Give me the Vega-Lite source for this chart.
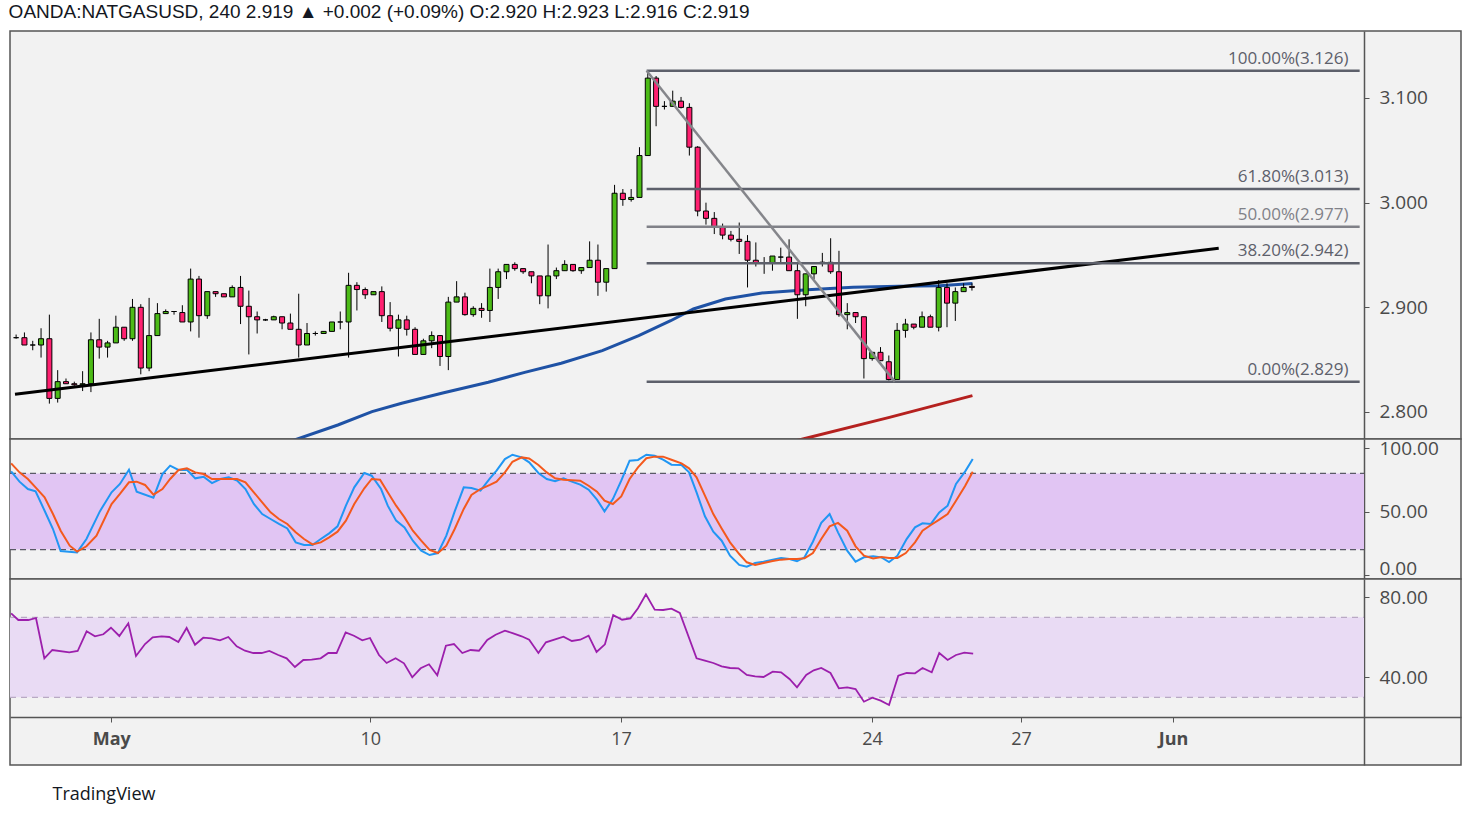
{
  "$schema": "https://vega.github.io/schema/vega-lite/v6.json",
  "background": "white",
  "padding": {"left": 8, "top": 3, "right": 10, "bottom": 10},
  "bounds": "flush",
  "spacing": 0,
  "title": {
    "text": "OANDA:NATGASUSD, 240  2.919 ▲ +0.002 (+0.09%)  O:2.920  H:2.923  L:2.916  C:2.919",
    "anchor": "start",
    "font": "'Liberation Sans Narrow', 'Liberation Sans', sans-serif",
    "fontSize": 19,
    "fontWeight": "normal",
    "color": "#131722",
    "offset": 8
  },
  "config": {
    "view": {"fill": "#f2f2f2", "stroke": "#555555", "strokeWidth": 1.5},
    "axis": {
      "grid": false,
      "title": null,
      "labelFont": "Open Sans",
      "labelFontSize": 19,
      "labelColor": "#4a4a4a",
      "domainColor": "#555555",
      "domainWidth": 1.5,
      "tickColor": "#555555",
      "tickSize": 5,
      "zindex": 1
    }
  },
  "datasets": {
    "ohlc": [
      {"i":0,"o":2.871,"h":2.874,"l":2.870,"c":2.871},
      {"i":1,"o":2.871,"h":2.876,"l":2.864,"c":2.864},
      {"i":2,"o":2.864,"h":2.868,"l":2.859,"c":2.864},
      {"i":3,"o":2.864,"h":2.880,"l":2.852,"c":2.870},
      {"i":4,"o":2.870,"h":2.893,"l":2.808,"c":2.813},
      {"i":5,"o":2.813,"h":2.840,"l":2.809,"c":2.829},
      {"i":6,"o":2.829,"h":2.832,"l":2.827,"c":2.827},
      {"i":7,"o":2.827,"h":2.829,"l":2.825,"c":2.826},
      {"i":8,"o":2.826,"h":2.839,"l":2.820,"c":2.827},
      {"i":9,"o":2.827,"h":2.876,"l":2.819,"c":2.869},
      {"i":10,"o":2.869,"h":2.889,"l":2.851,"c":2.862},
      {"i":11,"o":2.862,"h":2.868,"l":2.852,"c":2.866},
      {"i":12,"o":2.866,"h":2.892,"l":2.866,"c":2.881},
      {"i":13,"o":2.881,"h":2.881,"l":2.868,"c":2.870},
      {"i":14,"o":2.870,"h":2.908,"l":2.868,"c":2.900},
      {"i":15,"o":2.900,"h":2.903,"l":2.836,"c":2.842},
      {"i":16,"o":2.842,"h":2.909,"l":2.839,"c":2.873},
      {"i":17,"o":2.873,"h":2.904,"l":2.873,"c":2.894},
      {"i":18,"o":2.894,"h":2.898,"l":2.894,"c":2.896},
      {"i":19,"o":2.896,"h":2.896,"l":2.893,"c":2.896},
      {"i":20,"o":2.895,"h":2.902,"l":2.886,"c":2.886},
      {"i":21,"o":2.886,"h":2.937,"l":2.877,"c":2.927},
      {"i":22,"o":2.927,"h":2.930,"l":2.871,"c":2.892},
      {"i":23,"o":2.892,"h":2.915,"l":2.889,"c":2.915},
      {"i":24,"o":2.915,"h":2.915,"l":2.910,"c":2.913},
      {"i":25,"o":2.913,"h":2.913,"l":2.910,"c":2.910},
      {"i":26,"o":2.910,"h":2.921,"l":2.910,"c":2.919},
      {"i":27,"o":2.919,"h":2.930,"l":2.884,"c":2.901},
      {"i":28,"o":2.901,"h":2.916,"l":2.855,"c":2.891},
      {"i":29,"o":2.891,"h":2.896,"l":2.875,"c":2.888},
      {"i":30,"o":2.888,"h":2.889,"l":2.887,"c":2.888},
      {"i":31,"o":2.888,"h":2.892,"l":2.888,"c":2.891},
      {"i":32,"o":2.891,"h":2.891,"l":2.879,"c":2.885},
      {"i":33,"o":2.885,"h":2.894,"l":2.879,"c":2.879},
      {"i":34,"o":2.879,"h":2.913,"l":2.852,"c":2.864},
      {"i":35,"o":2.864,"h":2.885,"l":2.864,"c":2.875},
      {"i":36,"o":2.875,"h":2.877,"l":2.873,"c":2.875},
      {"i":37,"o":2.875,"h":2.877,"l":2.875,"c":2.877},
      {"i":38,"o":2.877,"h":2.886,"l":2.877,"c":2.886},
      {"i":39,"o":2.886,"h":2.896,"l":2.879,"c":2.886},
      {"i":40,"o":2.886,"h":2.933,"l":2.852,"c":2.921},
      {"i":41,"o":2.921,"h":2.924,"l":2.897,"c":2.917},
      {"i":42,"o":2.917,"h":2.919,"l":2.908,"c":2.912},
      {"i":43,"o":2.912,"h":2.915,"l":2.912,"c":2.915},
      {"i":44,"o":2.915,"h":2.920,"l":2.886,"c":2.892},
      {"i":45,"o":2.892,"h":2.905,"l":2.877,"c":2.880},
      {"i":46,"o":2.880,"h":2.893,"l":2.853,"c":2.888},
      {"i":47,"o":2.888,"h":2.892,"l":2.873,"c":2.879},
      {"i":48,"o":2.879,"h":2.881,"l":2.855,"c":2.855},
      {"i":49,"o":2.855,"h":2.870,"l":2.855,"c":2.868},
      {"i":50,"o":2.868,"h":2.877,"l":2.861,"c":2.873},
      {"i":51,"o":2.873,"h":2.873,"l":2.844,"c":2.853},
      {"i":52,"o":2.853,"h":2.910,"l":2.840,"c":2.905},
      {"i":53,"o":2.905,"h":2.925,"l":2.905,"c":2.910},
      {"i":54,"o":2.910,"h":2.914,"l":2.892,"c":2.893},
      {"i":55,"o":2.893,"h":2.901,"l":2.891,"c":2.899},
      {"i":56,"o":2.899,"h":2.904,"l":2.890,"c":2.897},
      {"i":57,"o":2.897,"h":2.937,"l":2.886,"c":2.919},
      {"i":58,"o":2.919,"h":2.937,"l":2.908,"c":2.934},
      {"i":59,"o":2.934,"h":2.941,"l":2.927,"c":2.941},
      {"i":60,"o":2.941,"h":2.943,"l":2.935,"c":2.937},
      {"i":61,"o":2.937,"h":2.937,"l":2.932,"c":2.934},
      {"i":62,"o":2.934,"h":2.934,"l":2.923,"c":2.930},
      {"i":63,"o":2.930,"h":2.930,"l":2.903,"c":2.911},
      {"i":64,"o":2.911,"h":2.960,"l":2.899,"c":2.930},
      {"i":65,"o":2.930,"h":2.938,"l":2.927,"c":2.935},
      {"i":66,"o":2.935,"h":2.945,"l":2.935,"c":2.941},
      {"i":67,"o":2.941,"h":2.941,"l":2.934,"c":2.935},
      {"i":68,"o":2.935,"h":2.938,"l":2.932,"c":2.938},
      {"i":69,"o":2.938,"h":2.963,"l":2.938,"c":2.945},
      {"i":70,"o":2.945,"h":2.960,"l":2.911,"c":2.924},
      {"i":71,"o":2.924,"h":2.937,"l":2.915,"c":2.937},
      {"i":72,"o":2.937,"h":3.017,"l":2.937,"c":3.009},
      {"i":73,"o":3.009,"h":3.013,"l":2.997,"c":3.003},
      {"i":74,"o":3.003,"h":3.013,"l":3.001,"c":3.005},
      {"i":75,"o":3.005,"h":3.053,"l":3.005,"c":3.045},
      {"i":76,"o":3.045,"h":3.125,"l":3.045,"c":3.119},
      {"i":77,"o":3.119,"h":3.121,"l":3.073,"c":3.092},
      {"i":78,"o":3.092,"h":3.097,"l":3.089,"c":3.092},
      {"i":79,"o":3.092,"h":3.107,"l":3.092,"c":3.097},
      {"i":80,"o":3.097,"h":3.101,"l":3.090,"c":3.091},
      {"i":81,"o":3.091,"h":3.095,"l":3.045,"c":3.053},
      {"i":82,"o":3.053,"h":3.054,"l":2.987,"c":2.992},
      {"i":83,"o":2.992,"h":3.000,"l":2.979,"c":2.985},
      {"i":84,"o":2.985,"h":2.991,"l":2.970,"c":2.977},
      {"i":85,"o":2.977,"h":2.980,"l":2.965,"c":2.969},
      {"i":86,"o":2.969,"h":2.973,"l":2.963,"c":2.965},
      {"i":87,"o":2.965,"h":2.981,"l":2.951,"c":2.963},
      {"i":88,"o":2.963,"h":2.969,"l":2.919,"c":2.945},
      {"i":89,"o":2.945,"h":2.962,"l":2.939,"c":2.942},
      {"i":90,"o":2.942,"h":2.948,"l":2.932,"c":2.942},
      {"i":91,"o":2.942,"h":2.949,"l":2.935,"c":2.949},
      {"i":92,"o":2.948,"h":2.957,"l":2.943,"c":2.948},
      {"i":93,"o":2.948,"h":2.965,"l":2.935,"c":2.935},
      {"i":94,"o":2.935,"h":2.943,"l":2.889,"c":2.912},
      {"i":95,"o":2.912,"h":2.932,"l":2.901,"c":2.932},
      {"i":96,"o":2.932,"h":2.939,"l":2.927,"c":2.939},
      {"i":97,"o":2.943,"h":2.952,"l":2.939,"c":2.943},
      {"i":98,"o":2.943,"h":2.966,"l":2.932,"c":2.934},
      {"i":99,"o":2.934,"h":2.954,"l":2.891,"c":2.893},
      {"i":100,"o":2.893,"h":2.904,"l":2.879,"c":2.895},
      {"i":101,"o":2.895,"h":2.895,"l":2.885,"c":2.891},
      {"i":102,"o":2.891,"h":2.891,"l":2.832,"c":2.851},
      {"i":103,"o":2.851,"h":2.857,"l":2.849,"c":2.857},
      {"i":104,"o":2.857,"h":2.862,"l":2.849,"c":2.849},
      {"i":105,"o":2.848,"h":2.854,"l":2.830,"c":2.831},
      {"i":106,"o":2.831,"h":2.885,"l":2.831,"c":2.878},
      {"i":107,"o":2.878,"h":2.889,"l":2.871,"c":2.884},
      {"i":108,"o":2.884,"h":2.884,"l":2.879,"c":2.881},
      {"i":109,"o":2.881,"h":2.896,"l":2.881,"c":2.891},
      {"i":110,"o":2.891,"h":2.893,"l":2.881,"c":2.881},
      {"i":111,"o":2.881,"h":2.926,"l":2.877,"c":2.919},
      {"i":112,"o":2.919,"h":2.923,"l":2.881,"c":2.904},
      {"i":113,"o":2.904,"h":2.919,"l":2.887,"c":2.915},
      {"i":114,"o":2.915,"h":2.923,"l":2.915,"c":2.919},
      {"i":115,"o":2.920,"h":2.923,"l":2.916,"c":2.919}
    ],
    "ma_blue": [
      {"i":30,"p":2.7637},{"i":38.71,"p":2.7876},{"i":42.82,"p":2.8003},{"i":46.39,"p":2.8083},
      {"i":51.32,"p":2.8182},{"i":56.81,"p":2.8284},{"i":61.19,"p":2.8379},{"i":65.58,"p":2.8466},
      {"i":70.52,"p":2.8586},{"i":74.91,"p":2.8729},{"i":78.75,"p":2.8872},{"i":81.49,"p":2.8984},
      {"i":85.34,"p":2.9079},{"i":89.72,"p":2.9137},{"i":95.21,"p":2.9168},{"i":100.69,"p":2.9191},
      {"i":106.17,"p":2.9201},{"i":111.12,"p":2.9207},{"i":115.06,"p":2.9228}
    ],
    "ma_red": [
      {"i":91.86,"p":2.7685},{"i":94.66,"p":2.7742},{"i":105.07,"p":2.7949},{"i":115.06,"p":2.8156}
    ],
    "trend": [{"i":-0.135,"p":2.8170},{"i":144.69,"p":2.9564}],
    "swing": [{"i":75.86,"p":3.126},{"i":105.72,"p":2.829}],
    "fib": [
      {"label":"100.00%(3.126)","price":3.126,"start":75.86},
      {"label":"61.80%(3.013)","price":3.013,"start":75.86},
      {"label":"50.00%(2.977)","price":2.977,"start":75.86},
      {"label":"38.20%(2.942)","price":2.942,"start":75.86},
      {"label":"0.00%(2.829)","price":2.829,"start":75.86}
    ],
    "stoch_k": [
      {"i":0,"v":81.6},{"i":1,"v":73.5},{"i":2,"v":67.7},{"i":2.92,"v":65.9},{"i":4,"v":50.6},{"i":5,"v":36.2},
      {"i":5.92,"v":18.9},{"i":7.88,"v":17.8},{"i":9,"v":28.3},{"i":10.6,"v":50.1},{"i":12,"v":65.1},{"i":13,"v":71.7},
      {"i":14.08,"v":82.9},{"i":15,"v":65.6},{"i":17,"v":60.9},{"i":18.08,"v":79.5},{"i":19,"v":86.1},{"i":20,"v":82.7},
      {"i":21,"v":82.9},{"i":22,"v":76.1},{"i":23,"v":77.4},{"i":24,"v":72.4},{"i":25,"v":75.6},{"i":26,"v":76.9},
      {"i":27,"v":74.3},{"i":28,"v":67.7},{"i":29,"v":55.9},{"i":30,"v":48},{"i":31,"v":44.1},{"i":32,"v":40.2},
      {"i":33,"v":36.7},{"i":34,"v":25.7},{"i":35,"v":23.6},{"i":36,"v":23.6},{"i":37,"v":28.3},{"i":38,"v":32.8},
      {"i":39,"v":38.3},{"i":40,"v":54.6},{"i":41,"v":69},{"i":42.2,"v":80.3},{"i":43.08,"v":78.2},{"i":44.2,"v":67.7},
      {"i":45,"v":54.6},{"i":46,"v":42.8},{"i":47,"v":37.5},{"i":48,"v":27},{"i":49,"v":19.2},{"i":50,"v":15.7},
      {"i":51,"v":17.3},{"i":52,"v":31},{"i":53,"v":50.1},{"i":54.08,"v":69},{"i":55,"v":68.5},{"i":56.08,"v":66.4},
      {"i":57.21,"v":76.1},{"i":58,"v":82.2},{"i":59,"v":91.3},{"i":59.9,"v":94.7},{"i":61,"v":92.6},{"i":61.9,"v":88.7},
      {"i":63,"v":80.3},{"i":64,"v":75.6},{"i":65,"v":73.8},{"i":66,"v":76.1},{"i":67,"v":73.5},{"i":68,"v":71.2},
      {"i":69,"v":67.2},{"i":70,"v":59.3},{"i":70.9,"v":50.1},{"i":71.9,"v":59.8},{"i":72.9,"v":74.3},{"i":73.9,"v":90},
      {"i":74.9,"v":90.6},{"i":75.9,"v":94.7},{"i":76.9,"v":93.9},{"i":77.9,"v":90.8},{"i":78.9,"v":86.9},{"i":80.1,"v":86.6},
      {"i":81,"v":80.8},{"i":81.9,"v":65.1},{"i":82.9,"v":46.2},{"i":83.9,"v":34.1},{"i":84.9,"v":27},{"i":85.9,"v":15.2},
      {"i":87,"v":7.9},{"i":87.9,"v":6.5},{"i":88.9,"v":9.4},{"i":89.9,"v":10.5},{"i":91,"v":12.1},{"i":92,"v":13.4},
      {"i":93,"v":12.6},{"i":93.9,"v":10.8},{"i":94.8,"v":13.9},{"i":95.8,"v":26.2},{"i":96.8,"v":41},{"i":97.8,"v":48},
      {"i":98.8,"v":33.6},{"i":99.9,"v":19.2},{"i":100.9,"v":10.5},{"i":101.9,"v":13.9},{"i":103,"v":14.7},{"i":104,"v":13.9},
      {"i":104.9,"v":10.2},{"i":105.9,"v":15.2},{"i":107,"v":28.3},{"i":108,"v":37.5},{"i":108.9,"v":40.7},{"i":109.9,"v":40.2},
      {"i":110.9,"v":49.3},{"i":111.9,"v":54.6},{"i":112.9,"v":71.7},{"i":114,"v":81.6},{"i":114.9,"v":91.3}
    ],
    "stoch_d": [
      {"i":0,"v":87.9},{"i":1,"v":80.8},{"i":2,"v":75.6},{"i":2.92,"v":69},{"i":4,"v":61.2},{"i":5,"v":48},
      {"i":5.92,"v":34.9},{"i":7,"v":23.1},{"i":7.88,"v":18.4},{"i":9,"v":22.6},{"i":10.2,"v":31},{"i":12,"v":55.9},
      {"i":13,"v":63.8},{"i":14.08,"v":73},{"i":15,"v":73.5},{"i":16,"v":70.9},{"i":17,"v":63.3},{"i":18.08,"v":67.7},
      {"i":19,"v":75.6},{"i":20,"v":82.7},{"i":21,"v":84},{"i":22,"v":80.8},{"i":23,"v":79.5},{"i":24,"v":75.6},
      {"i":25,"v":75.6},{"i":26,"v":75.6},{"i":27,"v":75.6},{"i":28,"v":73},{"i":29,"v":65.1},{"i":30,"v":57.2},
      {"i":31,"v":49.3},{"i":32,"v":44.1},{"i":33,"v":40.2},{"i":34,"v":33.6},{"i":35,"v":28.3},{"i":36,"v":24.1},
      {"i":37,"v":25.7},{"i":38,"v":29.7},{"i":39,"v":34.1},{"i":40,"v":42.8},{"i":41,"v":55.9},{"i":42.2,"v":68.3},
      {"i":43.08,"v":75.6},{"i":44.08,"v":75},{"i":45,"v":65.1},{"i":46,"v":54.6},{"i":47,"v":45.4},{"i":48,"v":34.9},
      {"i":49,"v":27},{"i":50,"v":19.7},{"i":51,"v":17.3},{"i":52,"v":23.1},{"i":53,"v":36.2},{"i":54.08,"v":52},
      {"i":55,"v":63},{"i":56.08,"v":67.7},{"i":57.21,"v":70.9},{"i":58,"v":73.5},{"i":59,"v":80.8},{"i":59.9,"v":89.2},
      {"i":61,"v":92.6},{"i":61.9,"v":91.8},{"i":63,"v":86.6},{"i":64,"v":80.8},{"i":65,"v":76.1},{"i":66,"v":75},
      {"i":68,"v":74.3},{"i":69,"v":70.3},{"i":70,"v":65.6},{"i":70.9,"v":58.5},{"i":71.9,"v":55.9},{"i":72.9,"v":61.9},
      {"i":73.9,"v":75.6},{"i":74.9,"v":84.8},{"i":75.9,"v":91.9},{"i":76.9,"v":93.2},{"i":77.9,"v":93.2},{"i":78.9,"v":90.8},
      {"i":80.1,"v":87.9},{"i":81,"v":84},{"i":81.9,"v":76.9},{"i":82.9,"v":62.5},{"i":83.9,"v":48},{"i":84.9,"v":36.7},
      {"i":85.9,"v":25.7},{"i":87,"v":16.5},{"i":87.9,"v":10},{"i":88.9,"v":7.9},{"i":89.9,"v":9.4},{"i":91,"v":11},
      {"i":92,"v":12.1},{"i":93,"v":12.6},{"i":93.9,"v":12.6},{"i":94.8,"v":13.1},{"i":95.8,"v":17.3},{"i":96.8,"v":28.3},
      {"i":97.8,"v":38.3},{"i":98.8,"v":41},{"i":99.9,"v":34.9},{"i":100.9,"v":22.6},{"i":101.9,"v":15.2},{"i":103,"v":13.1},
      {"i":104,"v":14.2},{"i":104.9,"v":13.4},{"i":105.9,"v":13.4},{"i":106.9,"v":17.3},{"i":108,"v":25.7},{"i":108.9,"v":34.9},
      {"i":109.9,"v":39.4},{"i":110.9,"v":43.6},{"i":111.9,"v":48},{"i":112.9,"v":58.5},{"i":114,"v":70.3},{"i":114.9,"v":81.3}
    ],
    "rsi": [
      {"i":0,"v":72},{"i":0.86,"v":68.65},{"i":2.06,"v":68.65},{"i":2.97,"v":69.65},{"i":3.97,"v":49.5},{"i":4.92,"v":53.65},
      {"i":6.95,"v":52.5},{"i":7.95,"v":53.15},{"i":9.02,"v":63},{"i":10.02,"v":60.5},{"i":11.02,"v":61.5},{"i":11.93,"v":64.8},
      {"i":12.93,"v":60.65},{"i":14,"v":67},{"i":14.92,"v":50.65},{"i":16,"v":56.65},{"i":16.91,"v":60},{"i":17.98,"v":60.5},
      {"i":18.9,"v":60.15},{"i":19.98,"v":57.65},{"i":20.97,"v":64.65},{"i":21.97,"v":56.3},{"i":22.96,"v":59.8},{"i":23.96,"v":59.5},
      {"i":24.95,"v":58.5},{"i":25.95,"v":60.15},{"i":26.95,"v":55.5},{"i":27.94,"v":53.3},{"i":28.94,"v":52.15},{"i":29.93,"v":52.15},
      {"i":30.85,"v":53.15},{"i":31.92,"v":51.15},{"i":32.92,"v":49.5},{"i":33.91,"v":45.15},{"i":34.91,"v":48.65},{"i":35.91,"v":48.8},
      {"i":36.98,"v":49.5},{"i":37.9,"v":52.15},{"i":38.89,"v":52.15},{"i":39.97,"v":62.5},{"i":40.96,"v":60.8},{"i":41.96,"v":58.5},
      {"i":42.88,"v":59.65},{"i":43.95,"v":51.15},{"i":44.87,"v":47.15},{"i":45.94,"v":49.5},{"i":46.94,"v":47},{"i":47.93,"v":40},
      {"i":48.93,"v":44.5},{"i":49.93,"v":46.5},{"i":50.92,"v":41},{"i":51.95,"v":55.8},{"i":52.91,"v":56.65},{"i":53.91,"v":52.15},
      {"i":54.9,"v":53.65},{"i":55.9,"v":53.3},{"i":56.89,"v":58.65},{"i":57.89,"v":61.3},{"i":59,"v":63.3},{"i":60,"v":62},
      {"i":61,"v":60.5},{"i":61.9,"v":58.8},{"i":63,"v":52.15},{"i":63.9,"v":57.5},{"i":65,"v":59},{"i":66,"v":60.3},
      {"i":67,"v":58.15},{"i":68,"v":58.8},{"i":69,"v":60.8},{"i":69.95,"v":52.65},{"i":70.95,"v":56.5},{"i":71.94,"v":71.15},
      {"i":73,"v":68.8},{"i":74,"v":69.5},{"i":74.9,"v":74.5},{"i":75.85,"v":81.5},{"i":76.9,"v":73.8},{"i":77.9,"v":73.65},
      {"i":78.9,"v":74.3},{"i":79.9,"v":72.15},{"i":81.9,"v":49.5},{"i":82.9,"v":48.3},{"i":83.9,"v":47.15},{"i":84.9,"v":45.5},
      {"i":85.9,"v":44.65},{"i":86.9,"v":44.5},{"i":87.9,"v":41.15},{"i":88.9,"v":40.5},{"i":89.9,"v":40.15},{"i":91,"v":42.8},
      {"i":92,"v":42.5},{"i":93,"v":39.15},{"i":93.9,"v":35},{"i":95,"v":41.15},{"i":95.9,"v":43.5},{"i":96.8,"v":44.65},
      {"i":97.9,"v":42.15},{"i":98.9,"v":34.5},{"i":99.9,"v":35},{"i":100.9,"v":34.15},{"i":101.9,"v":27.8},{"i":102.9,"v":29.8},
      {"i":103.9,"v":28.3},{"i":104.9,"v":26.15},{"i":106,"v":40.8},{"i":107,"v":42.15},{"i":108,"v":42},{"i":108.9,"v":44.65},
      {"i":110,"v":42.5},{"i":110.9,"v":52.15},{"i":111.9,"v":48.65},{"i":112.9,"v":51.15},{"i":113.9,"v":52.3},{"i":114.95,"v":51.8}
    ]
  },
  "vconcat": [
    {
      "width": 1451,
      "height": 408,
      "layer": [
        {
          "data": {"name": "ma_blue"},
          "mark": {"type": "line", "color": "#1f52a5", "strokeWidth": 3, "clip": true},
          "encoding": {
            "x": {"field": "i", "type": "quantitative", "scale": {"domain": [-0.135, 173.24], "nice": false, "zero": false}, "axis": null},
            "y": {"field": "p", "type": "quantitative", "scale": {"domain": [2.7742, 3.164], "nice": false, "zero": false},
                  "axis": {"orient": "right", "offset": -97, "values": [2.8, 2.9, 3.0, 3.1], "format": ".3f", "labelPadding": 10, "labelFlush": false}}
          }
        },
        {
          "data": {"name": "ma_red"},
          "mark": {"type": "line", "color": "#b5211f", "strokeWidth": 3, "clip": true},
          "encoding": {
            "x": {"field": "i", "type": "quantitative", "scale": {"domain": [-0.135, 173.24], "nice": false, "zero": false}},
            "y": {"field": "p", "type": "quantitative", "scale": {"domain": [2.7742, 3.164], "nice": false, "zero": false}}
          }
        },
        {
          "data": {"name": "ohlc"},
          "mark": {"type": "rule", "color": "#000000", "strokeWidth": 1, "clip": true},
          "encoding": {
            "x": {"field": "i", "type": "quantitative", "scale": {"domain": [-0.135, 173.24], "nice": false, "zero": false}},
            "y": {"field": "l", "type": "quantitative", "scale": {"domain": [2.7742, 3.164], "nice": false, "zero": false}},
            "y2": {"field": "h"}
          }
        },
        {
          "data": {"name": "ohlc"},
          "mark": {"type": "bar", "width": 5, "stroke": "#000000", "strokeWidth": 1, "clip": true},
          "encoding": {
            "x": {"field": "i", "type": "quantitative", "scale": {"domain": [-0.135, 173.24], "nice": false, "zero": false}},
            "y": {"field": "o", "type": "quantitative", "scale": {"domain": [2.7742, 3.164], "nice": false, "zero": false}},
            "y2": {"field": "c"},
            "fill": {"condition": {"test": "datum.c >= datum.o", "value": "#4cbb17"}, "value": "#ff2070"}
          }
        },
        {
          "data": {"name": "trend"},
          "mark": {"type": "line", "color": "#000000", "strokeWidth": 3, "clip": true},
          "encoding": {
            "x": {"field": "i", "type": "quantitative", "scale": {"domain": [-0.135, 173.24], "nice": false, "zero": false}},
            "y": {"field": "p", "type": "quantitative", "scale": {"domain": [2.7742, 3.164], "nice": false, "zero": false}}
          }
        },
        {
          "data": {"name": "fib"},
          "mark": {"type": "rule", "strokeWidth": 2.5},
          "encoding": {
            "x": {"field": "start", "type": "quantitative", "scale": {"domain": [-0.135, 173.24], "nice": false, "zero": false}},
            "x2": {"datum": 161.65},
            "y": {"field": "price", "type": "quantitative", "scale": {"domain": [2.7742, 3.164], "nice": false, "zero": false}},
            "color": {"condition": {"test": "datum.price == 2.977", "value": "#808188"}, "value": "#5d606b"}
          }
        },
        {
          "data": {"name": "swing"},
          "mark": {"type": "line", "color": "#85868b", "strokeWidth": 2.5},
          "encoding": {
            "x": {"field": "i", "type": "quantitative", "scale": {"domain": [-0.135, 173.24], "nice": false, "zero": false}},
            "y": {"field": "p", "type": "quantitative", "scale": {"domain": [2.7742, 3.164], "nice": false, "zero": false}}
          }
        },
        {
          "data": {"name": "fib"},
          "mark": {"type": "text", "align": "right", "baseline": "bottom", "dy": -3, "font": "Open Sans", "fontSize": 17},
          "encoding": {
            "x": {"datum": 160.3, "type": "quantitative", "scale": {"domain": [-0.135, 173.24], "nice": false, "zero": false}},
            "y": {"field": "price", "type": "quantitative", "scale": {"domain": [2.7742, 3.164], "nice": false, "zero": false}},
            "text": {"field": "label"},
            "color": {"condition": {"test": "datum.price == 2.977", "value": "#808188"}, "value": "#5d606b"}
          }
        }
      ]
    },
    {
      "width": 1451,
      "height": 140,
      "layer": [
        {
          "data": {"values": [{"lo": 20, "hi": 80}]},
          "mark": {"type": "rect", "color": "#e1c5f3"},
          "encoding": {
            "x": {"datum": -0.135, "type": "quantitative", "scale": {"domain": [-0.135, 173.24], "nice": false, "zero": false}, "axis": null},
            "x2": {"datum": 161.65},
            "y": {"field": "lo", "type": "quantitative", "scale": {"domain": [-3.15, 107.09], "nice": false, "zero": false},
                  "axis": {"orient": "right", "offset": -97, "values": [0, 50, 100], "format": ".2f", "labelPadding": 10, "labelFlush": false,
                           "labelBaseline": {"condition": {"test": "datum.value == 0", "value": "alphabetic"}, "value": "middle"}}},
            "y2": {"field": "hi"}
          }
        },
        {
          "data": {"values": [{"lv": 20}, {"lv": 80}]},
          "mark": {"type": "rule", "color": "#5a5a66", "strokeWidth": 1.3, "strokeDash": [6, 4]},
          "encoding": {
            "x": {"datum": -0.135, "type": "quantitative", "scale": {"domain": [-0.135, 173.24], "nice": false, "zero": false}},
            "x2": {"datum": 161.65},
            "y": {"field": "lv", "type": "quantitative", "scale": {"domain": [-3.15, 107.09], "nice": false, "zero": false}}
          }
        },
        {
          "data": {"name": "stoch_k"},
          "mark": {"type": "line", "color": "#2196f3", "strokeWidth": 2, "clip": true},
          "encoding": {
            "x": {"field": "i", "type": "quantitative", "scale": {"domain": [-0.135, 173.24], "nice": false, "zero": false}},
            "y": {"field": "v", "type": "quantitative", "scale": {"domain": [-3.15, 107.09], "nice": false, "zero": false}}
          }
        },
        {
          "data": {"name": "stoch_d"},
          "mark": {"type": "line", "color": "#f4591d", "strokeWidth": 2, "clip": true},
          "encoding": {
            "x": {"field": "i", "type": "quantitative", "scale": {"domain": [-0.135, 173.24], "nice": false, "zero": false}},
            "y": {"field": "v", "type": "quantitative", "scale": {"domain": [-3.15, 107.09], "nice": false, "zero": false}}
          }
        }
      ]
    },
    {
      "width": 1451,
      "height": 186,
      "layer": [
        {
          "data": {"values": [{"lo": 30, "hi": 70}]},
          "mark": {"type": "rect", "color": "#e9dbf4"},
          "encoding": {
            "x": {"datum": -0.135, "type": "quantitative", "scale": {"domain": [-0.135, 173.24], "nice": false, "zero": false},
                  "axis": {
                    "orient": "bottom", "offset": -48,
                    "values": [11.97, 42.92, 72.87, 102.86, 120.67, 138.83],
                    "labelExpr": "datum.value < 20 ? 'May' : datum.value < 50 ? '10' : datum.value < 90 ? '17' : datum.value < 110 ? '24' : datum.value < 130 ? '27' : 'Jun'",
                    "labelFontSize": 18,
                    "labelPadding": 8,
                    "labelFontWeight": {"condition": {"test": "datum.value < 20 || datum.value > 130", "value": "bold"}, "value": "normal"},
                    "title": "TradingView",
                    "titleX": 42,
                    "titleY": 68,
                    "titleAlign": "left",
                    "titleBaseline": "top",
                    "titleFont": "Open Sans",
                    "titleFontSize": 18,
                    "titleFontWeight": "normal",
                    "titleColor": "#131722"
                  }},
            "x2": {"datum": 161.65},
            "y": {"field": "lo", "type": "quantitative", "scale": {"domain": [-3.85, 89.15], "nice": false, "zero": false},
                  "axis": {"orient": "right", "offset": -97, "values": [40, 80], "format": ".2f", "labelPadding": 10, "labelFlush": false}},
            "y2": {"field": "hi"}
          }
        },
        {
          "data": {"values": [{"lv": 30}, {"lv": 70}]},
          "mark": {"type": "rule", "color": "#b9a9c4", "strokeWidth": 1.2, "strokeDash": [6, 5]},
          "encoding": {
            "x": {"datum": -0.135, "type": "quantitative", "scale": {"domain": [-0.135, 173.24], "nice": false, "zero": false}},
            "x2": {"datum": 161.65},
            "y": {"field": "lv", "type": "quantitative", "scale": {"domain": [-3.85, 89.15], "nice": false, "zero": false}}
          }
        },
        {
          "data": {"name": "rsi"},
          "mark": {"type": "line", "color": "#9c1fac", "strokeWidth": 1.8, "clip": true},
          "encoding": {
            "x": {"field": "i", "type": "quantitative", "scale": {"domain": [-0.135, 173.24], "nice": false, "zero": false}},
            "y": {"field": "v", "type": "quantitative", "scale": {"domain": [-3.85, 89.15], "nice": false, "zero": false}}
          }
        }
      ]
    }
  ]
}
